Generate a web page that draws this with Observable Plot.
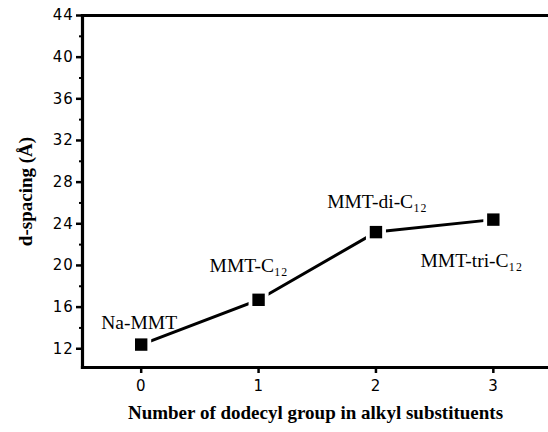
<!DOCTYPE html>
<html>
<head>
<meta charset="utf-8">
<script src="https://cdn.jsdelivr.net/npm/d3@7"></script>
<script src="https://cdn.jsdelivr.net/npm/@observablehq/plot@0.6"></script>
<style>
  html, body { margin: 0; padding: 0; background: #fff; }
  svg { display: block; }
  g[aria-label$="tick label"] { fill: #000 !important; font-size: 15px !important; letter-spacing: 0.8px; }
</style>
</head>
<body>
<div id="chart"></div>
<script>
// ---- data ----
const dodecylCount = [0, 1, 2, 3];
const dSpacing = [12.4, 16.7, 23.2, 24.4];
const sampleNames = ["Na-MMT", "MMT-C₁₂", "MMT-di-C₁₂", "MMT-tri-C₁₂"];
const yMajorTicks = [12, 16, 20, 24, 28, 32, 36, 40, 44];
const yMinorTicks = [14, 18, 22, 26, 30, 34, 38, 42];
const xMajorTicks = [0, 1, 2, 3];
const xMinorTicks = [0.5, 1.5, 2.5];
const xTitle = "Number of dodecyl group in alkyl substituents";
const yTitle = "d-spacing (Å)";

const rows = dodecylCount.map((n, i) => ({n, d: dSpacing[i], name: sampleNames[i]}));

// label placement (pixels, relative to each point)
const labelShift = [[-2, -22], [-10, -34], [1, -30], [-22, 41]];

const serif = "'Liberation Serif', 'Times New Roman', serif";
const sans = "'DejaVu Sans', 'Liberation Sans', Arial, sans-serif";

const chart = Plot.plot({
  width: 548,
  height: 432,
  marginLeft: 82,
  marginRight: 0,
  marginTop: 15,
  marginBottom: 65,
  style: {fontFamily: sans, fontSize: "15px", color: "#000", background: "#fff"},
  x: {domain: [-0.5, 3.47]},
  y: {domain: [10.2, 44]},
  marks: [
    Plot.axisY({ticks: yMajorTicks, tickSize: 6, tickPadding: 3, strokeWidth: 2.5, label: null, tickFormat: d => d}),
    Plot.axisY({ticks: yMinorTicks, tickSize: 3, strokeWidth: 2, text: null, label: null}),
    Plot.axisX({ticks: xMajorTicks, tickSize: 6, tickPadding: 7, strokeWidth: 2.5, label: null, tickFormat: d => d}),
    Plot.axisX({ticks: xMinorTicks, tickSize: 2, strokeWidth: 2, text: null, label: null}),
    Plot.frame({anchor: "left", strokeWidth: 3.2}),
    Plot.frame({anchor: "top", strokeWidth: 3.2}),
    Plot.frame({anchor: "bottom", strokeWidth: 3.2}),
    Plot.line(rows, {x: "n", y: "d", stroke: "#000", strokeWidth: 3}),
    Plot.dot(rows, {x: "n", y: "d", symbol: "square", r: 11.3, fill: "#fff", stroke: "none"}),
    Plot.dot(rows, {x: "n", y: "d", symbol: "square", r: 7, fill: "#000", stroke: "none"}),
    ...rows.map((row, i) => Plot.text([row], {
      x: "n", y: "d", text: "name",
      dx: labelShift[i][0], dy: labelShift[i][1],
      fontFamily: serif, fontSize: 19.5, fill: "#000"
    })),
    Plot.text([xTitle], {frameAnchor: "bottom", dy: 51, fontFamily: serif, fontSize: 19, fontWeight: "bold", fill: "#000"}),
    Plot.text([yTitle], {frameAnchor: "left", textAnchor: "middle", dx: -57, rotate: -90, fontFamily: serif, fontSize: 19, fontWeight: "bold", fill: "#000"})
  ]
});
// make sure the tick strokes are solid black and heavy like the reference
d3.select(chart).selectAll('g[aria-label$="tick"]').each(function() {
  const g = d3.select(this);
  const w = g.attr("stroke-width") || "2.5";
  g.attr("stroke", "#000").attr("stroke-opacity", 1);
  g.selectAll("path,line").attr("stroke-width", w);
});
document.getElementById("chart").appendChild(chart);
</script>
</body>
</html>
